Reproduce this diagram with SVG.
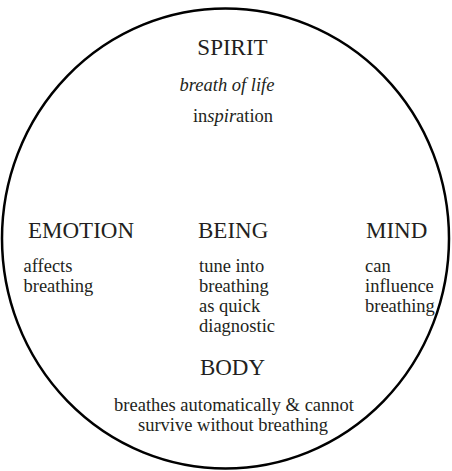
<svg xmlns="http://www.w3.org/2000/svg" width="452" height="471" viewBox="0 0 452 471">
<style>
text{font-family:"Liberation Serif","Times New Roman",serif;fill:#231f20}
.h{font-size:23px}
.b{font-size:18.5px}
.c{text-anchor:middle}
</style>
<rect width="452" height="471" fill="#fff"/>
<g id="circle"><ellipse cx="225.5" cy="238.5" rx="223.5" ry="230" fill="none" stroke="#000" stroke-width="2.5"/></g>
<g id="spirit">
<text class="h c" x="232.5" y="55">SPIRIT</text>
<text class="b c" x="227" y="91" font-style="italic">breath of life</text>
<text class="b c" x="233" y="122">in<tspan font-style="italic">spir</tspan>ation</text>
</g>
<g id="emotion">
<text class="h" x="28" y="238">EMOTION</text>
<text class="b" x="23.5" y="272">affects</text>
<text class="b" x="23.5" y="292">breathing</text>
</g>
<g id="being">
<text class="h" x="198" y="238">BEING</text>
<text class="b" x="199" y="272">tune into</text>
<text class="b" x="199" y="292">breathing</text>
<text class="b" x="199" y="312">as quick</text>
<text class="b" x="199" y="332">diagnostic</text>
</g>
<g id="mind">
<text class="h" x="366" y="238">MIND</text>
<text class="b" x="365" y="272">can</text>
<text class="b" x="365" y="292">influence</text>
<text class="b" x="365" y="312">breathing</text>
</g>
<g id="body">
<text class="h c" x="232.5" y="375">BODY</text>
<text class="b c" x="234" y="411">breathes automatically &amp; cannot</text>
<text class="b c" x="233" y="431">survive without breathing</text>
</g>
</svg>
